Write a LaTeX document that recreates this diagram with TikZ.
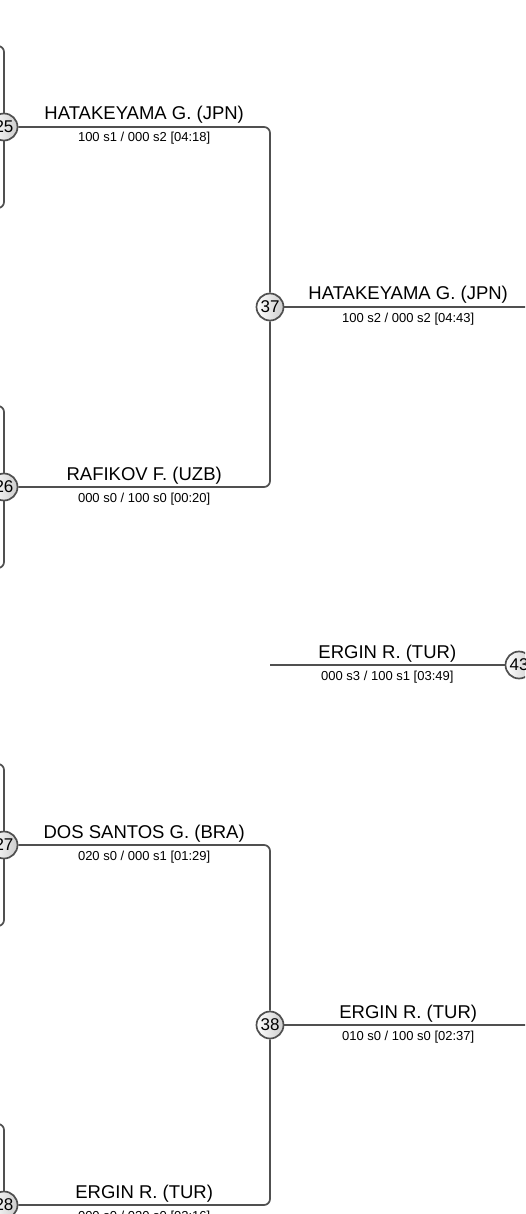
\documentclass[tikz,border=0pt]{standalone}
\usepackage{fontspec}
\setmainfont{Liberation Sans}
\usepackage{tikz}
\usetikzlibrary{positioning, calc}
\definecolor{linegray}{HTML}{505050}

\begin{document}
\begin{tikzpicture}[x=1pt, y=-1pt,
    match/.style={circle, draw=linegray, line width=1.7pt, left color=white, right color=gray!40, minimum size=27pt, inner sep=0pt, font=\fontsize{17}{17}\selectfont},
    link/.style={draw=linegray, line width=1.7pt, rounded corners=6pt},
    winner/.style={anchor=base, yshift=7pt, font=\fontsize{18.5}{20}\selectfont},
    score/.style={anchor=base, yshift=-15pt, font=\fontsize{13}{14}\selectfont}
]
\useasboundingbox (0,0) rectangle (525,1214);
\clip (0,0) rectangle (525,1214);

% free ends outside the page
\coordinate (in25a) at (-30,46);
\coordinate (in25b) at (-30,208);
\coordinate (in26a) at (-30,406);
\coordinate (in26b) at (-30,568);
\coordinate (in27a) at (-30,764);
\coordinate (in27b) at (-30,926);
\coordinate (in28a) at (-30,1124);
\coordinate (in28b) at (-30,1286);
\coordinate (out37) at (532,307);
\coordinate (out38) at (532,1025);
\coordinate (in43) at (270,665);

% feeder lines of the earlier round
\draw[link] (in25a) -| (4,127) (in25b) -| (4,127);
\draw[link] (in26a) -| (4,487) (in26b) -| (4,487);
\draw[link] (in27a) -| (4,845) (in27b) -| (4,845);
\draw[link] (in28a) -| (4,1205) (in28b) -| (4,1205);

\node[match] (m25) at (4,127) {25};
\node[match] (m26) at (4,487) {26};
\node[match] (m27) at (4,845) {27};
\node[match] (m28) at (4,1205) {28};
\node[match] (m37) at (270,307) {37};
\node[match] (m38) at (270,1025) {38};
\node[match] (m43) at (519,665) {43};

\draw[link] (m25) -| node[pos=0.25, winner]{HATAKEYAMA G. (JPN)} node[pos=0.25, score]{100 s1 / 000 s2 [04:18]} (m37);
\draw[link] (m26) -| node[pos=0.25, winner]{RAFIKOV F. (UZB)} node[pos=0.25, score]{000 s0 / 100 s0 [00:20]} (m37);
\draw[link] (m37) -- node[winner]{HATAKEYAMA G. (JPN)} node[score]{100 s2 / 000 s2 [04:43]} (out37);
\draw[link] (in43) -- node[winner]{ERGIN R. (TUR)} node[score]{000 s3 / 100 s1 [03:49]} (m43);
\draw[link] (m27) -| node[pos=0.25, winner]{DOS SANTOS G. (BRA)} node[pos=0.25, score]{020 s0 / 000 s1 [01:29]} (m38);
\draw[link] (m28) -| node[pos=0.25, winner]{ERGIN R. (TUR)} node[pos=0.25, score]{000 s0 / 020 s0 [02:16]} (m38);
\draw[link] (m38) -- node[winner]{ERGIN R. (TUR)} node[score]{010 s0 / 100 s0 [02:37]} (out38);
\end{tikzpicture}
\end{document}
